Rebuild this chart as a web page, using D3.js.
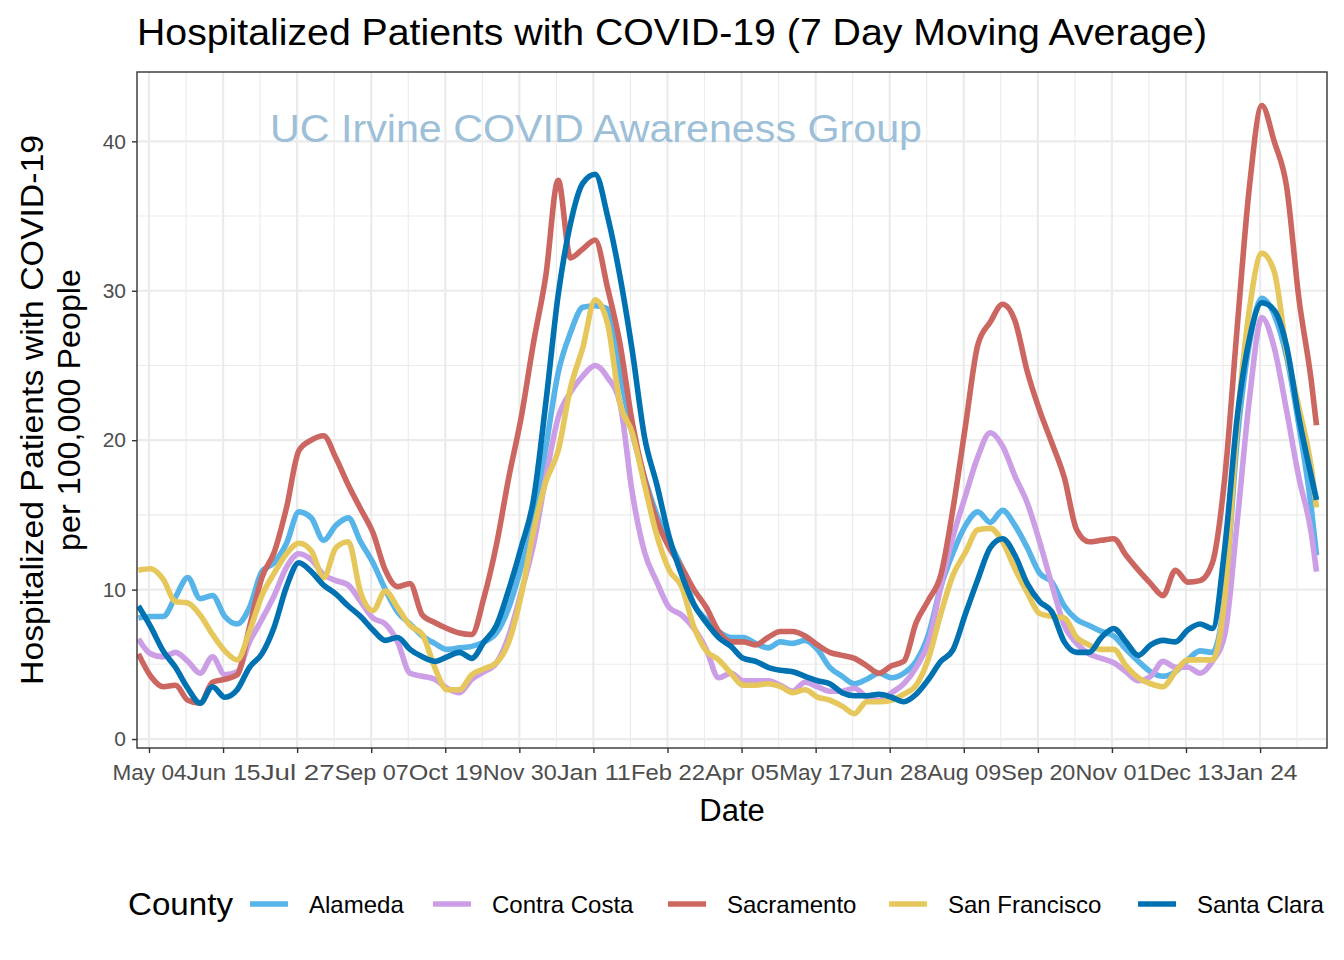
<!DOCTYPE html>
<html>
<head>
<meta charset="utf-8">
<script src="https://cdn.jsdelivr.net/npm/d3@7"></script>
<style>
  html, body { margin: 0; padding: 0; background: #ffffff; }
  svg text { font-family: "Liberation Sans", Arial, Helvetica, sans-serif; }
</style>
</head>
<body>
<svg id="chart" width="1344" height="960"></svg>
<script>
// ---------------- DATA ----------------
const dates = [
  "2020-04-28","2020-05-05","2020-05-12","2020-05-19","2020-05-26","2020-06-02","2020-06-09","2020-06-16",
  "2020-06-23","2020-06-30","2020-07-07","2020-07-14","2020-07-21","2020-07-28","2020-08-04","2020-08-11",
  "2020-08-18","2020-08-25","2020-09-01","2020-09-08","2020-09-15","2020-09-22","2020-09-29","2020-10-06",
  "2020-10-13","2020-10-20","2020-10-27","2020-11-03","2020-11-10","2020-11-17","2020-11-24","2020-12-01",
  "2020-12-08","2020-12-15","2020-12-22","2020-12-29","2021-01-05","2021-01-12","2021-01-19","2021-01-26",
  "2021-02-02","2021-02-09","2021-02-16","2021-02-23","2021-03-02","2021-03-09","2021-03-16","2021-03-23",
  "2021-03-30","2021-04-06","2021-04-13","2021-04-20","2021-04-27","2021-05-04","2021-05-11","2021-05-18",
  "2021-05-25","2021-06-01","2021-06-08","2021-06-15","2021-06-22","2021-06-29","2021-07-06","2021-07-13",
  "2021-07-20","2021-07-27","2021-08-03","2021-08-10","2021-08-17","2021-08-24","2021-08-31","2021-09-07",
  "2021-09-14","2021-09-21","2021-09-28","2021-10-05","2021-10-12","2021-10-19","2021-10-26","2021-11-02",
  "2021-11-09","2021-11-16","2021-11-23","2021-11-30","2021-12-07","2021-12-14","2021-12-21","2021-12-28",
  "2022-01-04","2022-01-11","2022-01-18","2022-01-25","2022-02-01","2022-02-08","2022-02-15","2022-02-22",
  "2022-02-25"
];

const counties = ["Alameda", "Contra Costa", "Sacramento", "San Francisco", "Santa Clara"];

const alameda = [
  8.1, 8.2, 8.2, 9.5, 10.8, 9.4, 9.6, 8.2, 7.7, 8.8, 11.2, 11.8, 13.1, 15.2, 14.8, 13.3,
  14.3, 14.8, 13.2, 11.8, 10.0, 8.5, 7.7, 6.9, 6.4, 6.0, 6.1, 6.2, 6.5, 7.1, 8.8, 11.5,
  14.5, 19.5, 24.5, 27.2, 28.9, 29.0, 28.8, 24.5, 20.5, 17.5, 15.0, 13.2, 11.5, 9.0, 8.0, 7.2,
  6.8, 6.8, 6.4, 6.1, 6.5, 6.4, 6.6, 6.0, 4.8, 4.2, 3.7, 4.0, 4.4, 4.1, 4.4, 5.2,
  7.0, 10.2, 12.5, 14.3, 15.2, 14.5, 15.3, 14.3, 12.8, 11.1, 10.5, 8.9, 8.0, 7.6, 7.2, 6.9,
  6.0, 5.2, 4.5, 4.2, 4.5, 5.3, 5.9, 5.8, 9.5, 20.0, 26.5, 29.5, 28.4, 25.6, 21.0, 15.5,
  12.3
];

const contraCosta = [
  6.7, 5.7, 5.5, 5.8, 5.2, 4.4, 5.5, 4.3, 4.5, 6.5, 8.0, 9.6, 11.5, 12.4, 12.0, 11.0,
  10.6, 10.3, 9.2, 8.1, 7.7, 6.5, 4.4, 4.2, 4.0, 3.4, 3.1, 4.0, 4.5, 5.1, 6.9, 9.8,
  13.0, 17.5, 21.5, 23.2, 24.3, 25.0, 24.2, 22.5, 16.5, 12.5, 10.5, 8.8, 8.3, 7.4, 6.0, 4.1,
  4.4, 3.9, 3.9, 3.9, 3.6, 3.2, 3.8, 3.5, 3.2, 3.2, 3.4, 2.8, 2.6, 3.1, 3.7, 4.8,
  6.5, 10.2, 13.6, 16.3, 18.9, 20.5, 19.6, 17.6, 15.8, 13.2, 10.3, 7.6, 6.4, 5.7, 5.4, 5.1,
  4.5, 3.9, 4.2, 5.2, 4.8, 4.8, 4.4, 5.2, 7.0, 14.5, 22.8, 28.2, 26.2, 22.0, 17.5, 13.8,
  11.2
];

const sacramento = [
  5.7, 4.2, 3.5, 3.6, 2.6, 2.4, 3.8, 4.0, 4.3, 7.5, 10.8, 12.5, 15.5, 19.3, 20.0, 20.3,
  18.8, 17.0, 15.4, 13.8, 11.3, 10.2, 10.4, 8.3, 7.8, 7.4, 7.1, 7.0, 9.5, 13.0, 17.5, 21.5,
  26.5, 31.0, 37.4, 32.2, 32.8, 33.4, 30.2, 26.5, 21.2, 17.4, 14.6, 12.8, 11.5, 10.0, 8.8, 7.2,
  6.5, 6.5, 6.3, 6.8, 7.2, 7.2, 6.9, 6.3, 5.8, 5.6, 5.4, 4.9, 4.4, 4.9, 5.2, 7.8,
  9.3, 11.0, 15.5, 21.0, 26.4, 27.9, 29.1, 28.0, 24.6, 22.0, 19.8, 17.5, 14.0, 13.2, 13.3, 13.4,
  12.3, 11.3, 10.4, 9.6, 11.3, 10.5, 10.6, 11.8, 17.5, 27.5, 37.0, 42.4, 40.0, 37.0, 29.5, 24.0,
  21.0
];

const sanFrancisco = [
  11.3, 11.4, 10.7, 9.2, 9.1, 8.3, 7.0, 5.9, 5.3, 7.2, 9.6, 11.1, 12.4, 13.1, 12.6, 10.8,
  12.8, 13.2, 9.8, 8.6, 9.9, 8.8, 7.6, 7.0, 4.8, 3.3, 3.3, 4.3, 4.7, 5.1, 6.5, 9.6,
  13.9, 17.2, 19.3, 23.5, 26.2, 29.4, 27.8, 22.5, 20.5, 17.0, 13.6, 11.3, 10.2, 7.5, 5.9, 5.3,
  4.4, 3.6, 3.6, 3.7, 3.5, 3.1, 3.3, 2.8, 2.6, 2.2, 1.7, 2.5, 2.5, 2.6, 3.0, 3.6,
  5.4, 8.4, 11.0, 12.5, 14.0, 14.1, 13.2, 11.4, 9.8, 8.4, 8.2, 8.1, 6.8, 6.3, 6.0, 6.0,
  4.9, 4.1, 3.7, 3.5, 4.5, 5.3, 5.3, 5.3, 9.5, 21.0, 28.8, 32.5, 31.3, 26.0, 22.2, 18.2,
  15.5
];

const santaClara = [
  8.9, 7.5, 5.9, 4.8, 3.4, 2.4, 3.5, 2.8, 3.3, 4.8, 5.7, 7.5, 10.2, 11.8, 11.2, 10.3,
  9.7, 8.9, 8.2, 7.3, 6.6, 6.8, 6.0, 5.5, 5.2, 5.5, 5.8, 5.4, 6.5, 7.6, 10.0, 12.8,
  16.0, 22.5, 29.7, 34.5, 37.2, 37.8, 35.0, 31.0, 26.0, 20.2, 17.0, 13.5, 11.0, 9.0, 7.8, 6.8,
  6.2, 5.4, 5.2, 4.8, 4.6, 4.5, 4.2, 3.9, 3.7, 3.1, 2.9, 2.9, 3.0, 2.8, 2.5, 3.0,
  4.0, 5.2, 6.0, 8.4, 10.7, 12.8, 13.4, 12.3, 10.4, 9.2, 8.5, 6.5, 5.8, 5.8, 6.8, 7.4,
  6.5, 5.6, 6.3, 6.6, 6.5, 7.3, 7.7, 7.4, 12.8, 21.5, 26.8, 29.2, 28.7, 26.3, 21.5, 17.6,
  16.0
];

const seriesValues = [alameda, contraCosta, sacramento, sanFrancisco, santaClara];
const colors = ["#56B4E9", "#CC9EE6", "#CC6660", "#E6C75C", "#0072B2"];

const xTickDates = ["2020-05-04","2020-06-15","2020-07-27","2020-09-07","2020-10-19","2020-11-30",
  "2021-01-11","2021-02-22","2021-04-05","2021-05-17","2021-06-28","2021-08-09","2021-09-20",
  "2021-11-01","2021-12-13","2022-01-24"];
const yTicks = [0, 10, 20, 30, 40];
const yMinor = [5, 15, 25, 35];

const titleText = "Hospitalized Patients with COVID-19  (7 Day Moving Average)";
const watermark = "UC Irvine COVID Awareness Group";
const yTitle1 = "Hospitalized Patients with COVID-19";
const yTitle2 = "per 100,000 People";
const xTitle = "Date";
const legendTitle = "County";

// ---------------- DRAW ----------------
const svg = d3.select("#chart");
const parse = d3.utcParse("%Y-%m-%d");
const dayMs = 86400000;

const panel = {left: 137, right: 1327, top: 72, bottom: 748};
const anchor = parse("2020-05-04");
const x = d3.scaleUtc()
  .domain([new Date(anchor.getTime() - 6.8 * dayMs), new Date(anchor.getTime() + 667.95 * dayMs)])
  .range([panel.left, panel.right]);
const y = d3.scaleLinear().domain([-0.6, 44.64]).range([panel.bottom, panel.top]);

const tickDates = xTickDates.map(parse);
const minorDates = tickDates.map(d => new Date(d.getTime() + 21 * dayMs));

const g = svg.append("g");

// panel background
g.append("rect").attr("x", panel.left).attr("y", panel.top)
  .attr("width", panel.right - panel.left).attr("height", panel.bottom - panel.top)
  .attr("fill", "#ffffff");

// grid
const grid = g.append("g");
grid.selectAll("line.ymin").data(yMinor).join("line")
  .attr("x1", panel.left).attr("x2", panel.right)
  .attr("y1", d => y(d)).attr("y2", d => y(d))
  .attr("stroke", "#EBEBEB").attr("stroke-width", 1.1);
grid.selectAll("line.xmin").data(minorDates.filter(d => x(d) < panel.right)).join("line")
  .attr("y1", panel.top).attr("y2", panel.bottom)
  .attr("x1", d => x(d)).attr("x2", d => x(d))
  .attr("stroke", "#EBEBEB").attr("stroke-width", 1.1);
grid.selectAll("line.ymaj").data(yTicks).join("line")
  .attr("x1", panel.left).attr("x2", panel.right)
  .attr("y1", d => y(d)).attr("y2", d => y(d))
  .attr("stroke", "#EBEBEB").attr("stroke-width", 2.2);
grid.selectAll("line.xmaj").data(tickDates).join("line")
  .attr("y1", panel.top).attr("y2", panel.bottom)
  .attr("x1", d => x(d)).attr("x2", d => x(d))
  .attr("stroke", "#EBEBEB").attr("stroke-width", 2.2);

// watermark
g.append("text").attr("x", 270).attr("y", 142)
  .attr("font-size", 38).attr("fill", "#9DBFD8")
  .attr("textLength", 652).attr("lengthAdjust", "spacingAndGlyphs")
  .text(watermark);

// lines
const parsedDates = dates.map(parse);
const line = d3.line()
  .x((d, i) => x(parsedDates[i]))
  .y(d => y(d))
  .curve(d3.curveMonotoneX);

svg.append("clipPath").attr("id", "clip").append("rect")
  .attr("x", panel.left).attr("y", panel.top)
  .attr("width", panel.right - panel.left).attr("height", panel.bottom - panel.top);

const linesG = g.append("g").attr("clip-path", "url(#clip)");
seriesValues.forEach((vals, k) => {
  linesG.append("path")
    .attr("d", line(vals))
    .attr("fill", "none")
    .attr("stroke", colors[k])
    .attr("stroke-width", 5.6)
    .attr("stroke-linejoin", "round")
    .attr("stroke-linecap", "butt");
});

// panel border
g.append("rect").attr("x", panel.left).attr("y", panel.top)
  .attr("width", panel.right - panel.left).attr("height", panel.bottom - panel.top)
  .attr("fill", "none").attr("stroke", "#333333").attr("stroke-width", 1.4);

// axes
const xAxis = d3.axisBottom(x).tickValues(tickDates)
  .tickFormat(d3.utcFormat("%b %d")).tickSize(5).tickPadding(11);
const xg = g.append("g").attr("transform", `translate(0,${panel.bottom})`).call(xAxis);
xg.select(".domain").remove();
xg.selectAll(".tick line").attr("stroke", "#333333").attr("stroke-width", 1.4);
xg.selectAll(".tick text").attr("fill", "#4D4D4D").attr("font-size", 22)
  .attr("font-family", "Liberation Sans, Arial, sans-serif")
  .attr("textLength", 74).attr("lengthAdjust", "spacingAndGlyphs");

const yAxis = d3.axisLeft(y).tickValues(yTicks).tickSize(5).tickPadding(6);
const yg = g.append("g").attr("transform", `translate(${panel.left},0)`).call(yAxis);
yg.select(".domain").remove();
yg.selectAll(".tick line").attr("stroke", "#333333").attr("stroke-width", 1.4);
yg.selectAll(".tick text").attr("fill", "#4D4D4D").attr("font-size", 21)
  .attr("font-family", "Liberation Sans, Arial, sans-serif");

// titles
svg.append("text").attr("x", 137).attr("y", 45)
  .attr("font-size", 37).attr("fill", "#000")
  .attr("textLength", 1070).attr("lengthAdjust", "spacingAndGlyphs")
  .text(titleText);

svg.append("text").attr("x", (panel.left + panel.right) / 2).attr("y", 821)
  .attr("text-anchor", "middle").attr("font-size", 31).attr("fill", "#000")
  .text(xTitle);

svg.append("text")
  .attr("transform", `translate(43,410) rotate(-90)`)
  .attr("text-anchor", "middle").attr("font-size", 31).attr("fill", "#000")
  .attr("textLength", 550).attr("lengthAdjust", "spacingAndGlyphs")
  .text(yTitle1);
svg.append("text")
  .attr("transform", `translate(80,410) rotate(-90)`)
  .attr("text-anchor", "middle").attr("font-size", 31).attr("fill", "#000")
  .attr("textLength", 282).attr("lengthAdjust", "spacingAndGlyphs")
  .text(yTitle2);

// legend
const legend = svg.append("g");
legend.append("text").attr("x", 128).attr("y", 915)
  .attr("font-size", 31).attr("fill", "#000")
  .attr("textLength", 105).attr("lengthAdjust", "spacingAndGlyphs")
  .text(legendTitle);
const keyX = [250, 433, 668, 889, 1138];
counties.forEach((c, k) => {
  legend.append("line")
    .attr("x1", keyX[k]).attr("x2", keyX[k] + 38)
    .attr("y1", 904).attr("y2", 904)
    .attr("stroke", colors[k]).attr("stroke-width", 5.6);
  legend.append("text").attr("x", keyX[k] + 59).attr("y", 913)
    .attr("font-size", 24).attr("fill", "#000").text(c);
});
</script>
</body>
</html>
